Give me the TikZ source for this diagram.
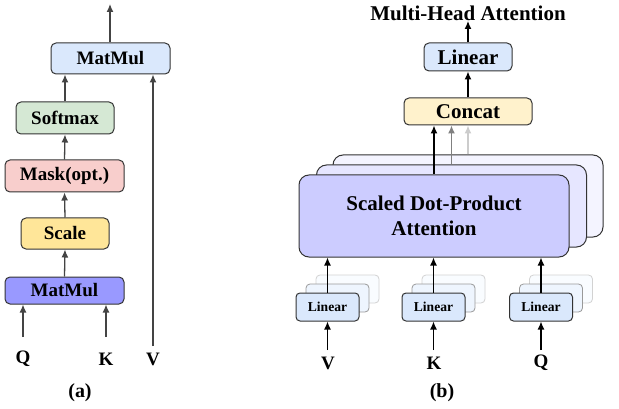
\documentclass[tikz,border=0pt]{standalone}
\usepackage{fontspec}
\setmainfont{Liberation Serif}
\usetikzlibrary{arrows.meta}
\definecolor{bluebox}{HTML}{DAE8FC}
\definecolor{greenbox}{HTML}{D5E8D4}
\definecolor{pinkbox}{HTML}{F8CECC}
\definecolor{yellowbox}{HTML}{FFE699}
\definecolor{lightyellow}{HTML}{FFF2CC}
\definecolor{purplebox}{HTML}{9999FF}
\definecolor{attnA}{HTML}{CCCCFF}
\definecolor{attnB}{HTML}{E6E6FF}
\definecolor{attnC}{HTML}{F4F4FF}
\definecolor{edge}{HTML}{333333}
\definecolor{arrowgray}{HTML}{444444}
\tikzset{
  box/.style={draw=edge, line width=1pt, rounded corners=5pt, inner sep=0pt,
    font=\bfseries\fontsize{19}{21}\selectfont},
  bigbox/.style={box, font=\bfseries\fontsize{21}{25}\selectfont},
  linbox/.style={draw=edge, line width=1pt, rounded corners=4pt, inner sep=0pt,
    minimum width=63pt, minimum height=28pt, fill=bluebox,
    font=\bfseries\fontsize{13.6}{15}\selectfont},
  linmid/.style={draw=gray!80, line width=0.8pt, rounded corners=4pt,
    minimum width=63pt, minimum height=28pt, fill=bluebox!45},
  linback/.style={draw=gray!35, line width=0.8pt, rounded corners=4pt,
    minimum width=63pt, minimum height=28pt, fill=bluebox!15},
  lbl/.style={font=\bfseries\fontsize{19}{21}\selectfont, inner sep=0pt},
  arr/.style={-{Latex[length=8pt,width=7pt]}, line width=1.3pt},
  arrg/.style={arr, draw=arrowgray, color=arrowgray},
}
\begin{document}
\begin{tikzpicture}[x=1pt,y=-1pt]
\useasboundingbox (0,0) rectangle (619,409);

% ---------- (a) scaled dot-product attention ----------
\node[box, fill=bluebox, minimum width=119pt, minimum height=31pt] (mmtop) at (110.5,58.5) {MatMul};
\node[box, fill=greenbox, minimum width=98pt, minimum height=32pt] (soft) at (65,118) {Softmax};
\node[box, fill=pinkbox, minimum width=119pt, minimum height=32pt] (mask) at (64.5,176) {Mask(opt.)};
\node[box, fill=yellowbox, minimum width=88pt, minimum height=31pt] (scale) at (65,233.5) {Scale};
\node[box, fill=purplebox, minimum width=119pt, minimum height=27pt] (mmbot) at (64.5,290.5) {MatMul};

\node[lbl] (qa) at (23,359) {Q};
\node[lbl] (ka) at (106,359) {K};
\node[lbl] (va) at (153,359) {V};
\node[lbl, font=\bfseries\fontsize{20}{22}\selectfont] (capa) at (80,393) {(a)};

\coordinate (outa) at (110,4);
\coordinate (qsrc) at (23,337);
\coordinate (ksrc) at (106,337);
\coordinate (vsrc) at (153,346);
\draw[arrg] (mmbot.north) -- (scale.south);
\draw[arrg] (scale.north) -- (mask.south);
\draw[arrg] (mask.north) -- (soft.south);
\draw[arrg] (soft.north) -- (soft.north |- mmtop.south);
\draw[arrg] (mmtop.north -| outa) -- (outa);
\draw[arrg] (qsrc) -- (qsrc |- mmbot.south);
\draw[arrg] (ksrc) -- (ksrc |- mmbot.south);
\draw[arrg] (vsrc) -- (vsrc |- mmtop.south);

% ---------- (b) multi-head attention ----------
\node[lbl, font=\bfseries\fontsize{21}{25}\selectfont] (mha) at (468,13) {Multi-Head Attention};
\node[bigbox, fill=bluebox, minimum width=88pt, minimum height=28pt] (lin) at (468,57) {Linear};
\node[bigbox, fill=lightyellow, minimum width=128pt, minimum height=27pt] (concat) at (468,111.5) {Concat};

\node[draw=edge, line width=1pt, rounded corners=10pt, fill=attnC,
  minimum width=270pt, minimum height=82pt] (sdpc) at (468,196) {};
\node[draw=edge, line width=1pt, rounded corners=10pt, fill=attnB,
  minimum width=270pt, minimum height=82pt] (sdpb) at (451.5,206) {};
\node[bigbox, rounded corners=10pt, fill=attnA, minimum width=270pt, minimum height=82pt,
  align=center] (sdpa) at (434,216) {Scaled Dot-Product\\Attention};

\coordinate (mhain) at (468,21);
\draw[arr] (sdpa.north) -- (sdpa.north |- concat.south);
\draw[arr, draw=gray, color=gray] (sdpb.north) -- (sdpb.north |- concat.south);
\draw[arr, draw=gray!40, color=gray!40] (sdpc.north) -- (sdpc.north |- concat.south);
\draw[arr] (concat.north) -- (lin.south);
\draw[arr] (lin.north) -- (mhain);

% three stacked linear projections per input
\foreach \cx/\nm in {327.5/v, 433.5/k, 541/q}{
  \node[linback] (\nm back) at (\cx+20,289) {};
  \node[linmid] (\nm mid) at (\cx+10,298) {};
  \node[linbox] (\nm lin) at (\cx,307) {Linear};
  \coordinate (\nm src) at (\cx,350);
}
\node[lbl] (vb) at (328,363) {V};
\node[lbl] (kb) at (434,363) {K};
\node[lbl] (qb) at (541,363) {Q};
\node[lbl, font=\bfseries\fontsize{20}{22}\selectfont] (capb) at (442,393) {(b)};

\foreach \nm in {v, k, q}{
  \draw[arr] (\nm src) -- (\nm lin.south);
  \draw[arr] (\nm lin.north) -- (\nm lin.north |- sdpa.south);
}
\end{tikzpicture}
\end{document}
